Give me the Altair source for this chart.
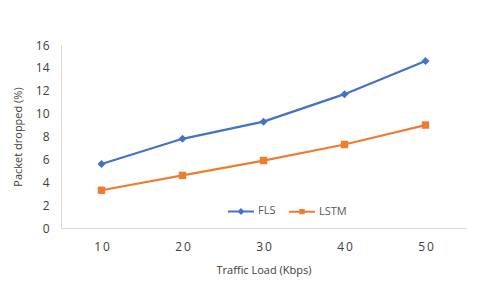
import altair as alt
import pandas as pd

loads = ["10", "20", "30", "40", "50"]
fls = [5.6, 7.8, 9.3, 11.7, 14.6]
lstm = [3.3, 4.6, 5.9, 7.3, 9.0]
series = ["FLS", "LSTM"]
colors = ["#4472C4", "#ED7D31"]
y_ticks = [0, 2, 4, 6, 8, 10, 12, 14, 16]
legend_paths = [
    "M-1,0H1M0,-0.16L0.16,0L0,0.16L-0.16,0Z",
    "M-1,0H1M-0.13,-0.13H0.13V0.13H-0.13Z",
]

FONT = "Open Sans"
TXT = "#404040"
BORDER = "#d9d9d9"

df = pd.DataFrame({
    "load": loads * 2,
    "value": fls + lstm,
    "series": ["FLS"] * len(loads) + ["LSTM"] * len(loads),
})

cscale = alt.Scale(domain=series, range=colors)

x_enc = alt.X(
    "load:N", sort=loads,
    scale=alt.Scale(type="point", padding=0.5),
    axis=alt.Axis(
        title="Traffic Load (Kbps)", labelAngle=0, ticks=False, grid=False,
        domainColor=BORDER, labelPadding=13,
        labelExpr="join(split(datum.label, ''), '\u2009')",
        titleX=202.5, titleY=42, titleBaseline="middle", titleAlign="center",
    ),
)
y_enc = alt.Y(
    "value:Q",
    scale=alt.Scale(domain=[0, 16], nice=False),
    axis=alt.Axis(
        values=y_ticks, title="Packet dropped (%)", ticks=False, grid=False,
        domainColor=BORDER, labelPadding=12,
        titleX=-43, titleY=91.5, titleAngle=-90,
        titleBaseline="middle", titleAlign="center",
    ),
)

leg = alt.Legend(
    title=None, orient="none", legendX=166, legendY=152, direction="horizontal",
    symbolSize=676, symbolStrokeWidth=2, labelFont=FONT, labelFontSize=11,
    labelColor="#595959", labelOffset=3, columnPadding=9, padding=0,
)

base = alt.Chart(df)

line = base.mark_line(strokeWidth=2.25).encode(
    x=x_enc, y=y_enc,
    stroke=alt.Stroke("series:N", scale=cscale, legend=leg),
)

p_fls = base.transform_filter(alt.datum.series == "FLS").mark_point(
    shape="diamond", filled=True, size=64, opacity=1, strokeWidth=0
).encode(x=x_enc, y=y_enc, fill=alt.Fill("series:N", scale=cscale, legend=leg))

p_lstm = base.transform_filter(alt.datum.series == "LSTM").mark_point(
    shape="square", filled=True, size=55, opacity=1, strokeWidth=0
).encode(x=x_enc, y=y_enc, fill=alt.Fill("series:N", scale=cscale, legend=leg))

legend_layer = base.mark_point(filled=True, opacity=1, strokeWidth=2).encode(
    x=x_enc, y=y_enc,
    fill=alt.Fill("series:N", scale=cscale, legend=leg),
    stroke=alt.Stroke("series:N", scale=cscale, legend=leg),
    shape=alt.Shape("series:N", scale=alt.Scale(domain=series, range=legend_paths), legend=leg),
    size=alt.value(0),
)

chart = alt.layer(
    line, p_fls, p_lstm, legend_layer
).properties(
    width=405, height=183,
    autosize=alt.AutoSizeParams(type="none"),
    padding={"left": 53, "top": 37, "right": 6, "bottom": 53},
    background="white",
).configure_view(stroke=None).configure_axis(
    labelFont=FONT, titleFont=FONT, labelFontSize=12, titleFontSize=11,
    titleFontWeight="normal", labelColor=TXT, titleColor=TXT,
)

chart.save("out.html", embed_options={"renderer": "svg", "actions": False})
